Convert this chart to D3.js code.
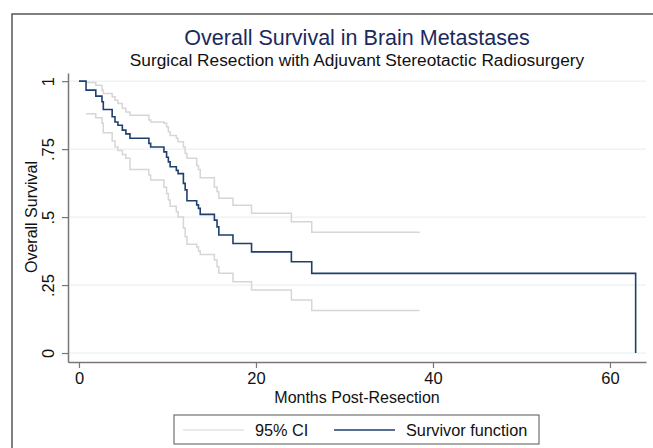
<!DOCTYPE html>
<html>
<head>
<meta charset="utf-8">
<title>Overall Survival</title>
<style>
body {margin: 0; background: #fff;}
text {font-family: "Liberation Sans", Arial, sans-serif;}
</style>
</head>
<body>
<div id="chart"></div>
<script src="https://cdn.jsdelivr.net/npm/d3@7/dist/d3.min.js"></script>
<script>
// Kaplan-Meier estimate (months, survival)
var survTime = [0, 0.8, 1.9, 2.6, 2.75, 3.75, 4.07, 4.4, 4.9, 5.3, 5.76, 7.9, 8.1, 9.6, 9.9, 10.1, 10.3, 11.0, 11.2, 11.8, 12.0, 12.2, 13.3, 13.5, 13.7, 15.3, 15.6, 15.8, 17.4, 19.5, 24.0, 26.3, 62.9];
var survProb = [1, 0.967, 0.945, 0.924, 0.896, 0.869, 0.85, 0.838, 0.82, 0.806, 0.79, 0.771, 0.758, 0.74, 0.72, 0.703, 0.685, 0.672, 0.66, 0.624, 0.6, 0.56, 0.545, 0.532, 0.51, 0.489, 0.464, 0.434, 0.403, 0.372, 0.336, 0.293, 0];

var ciTime  = [0.8, 1.9, 2.6, 2.75, 3.75, 4.07, 4.4, 4.9, 5.3, 5.76, 7.9, 8.1, 9.6, 9.9, 10.1, 10.3, 11.0, 11.2, 11.8, 12.0, 12.2, 13.3, 13.5, 13.7, 15.3, 15.6, 15.8, 17.4, 19.5, 24.0, 26.3, 38.5];
var ciUpper = [0.995, 0.985, 0.967, 0.955, 0.943, 0.93, 0.918, 0.9, 0.887, 0.875, 0.857, 0.85, 0.845, 0.832, 0.814, 0.8, 0.79, 0.777, 0.758, 0.734, 0.716, 0.69, 0.675, 0.645, 0.611, 0.593, 0.569, 0.544, 0.514, 0.483, 0.444, 0.444];
var ciLower = [0.88, 0.865, 0.845, 0.81, 0.78, 0.758, 0.745, 0.73, 0.716, 0.675, 0.655, 0.636, 0.61, 0.587, 0.5625, 0.54, 0.52, 0.5, 0.46, 0.428, 0.4, 0.39, 0.375, 0.362, 0.342, 0.317, 0.293, 0.262, 0.232, 0.195, 0.156, 0.156];

var xTicks = [0, 20, 40, 60];
var yTicks = [0, 0.25, 0.5, 0.75, 1];
var yTickLabels = ['0', '.25', '.5', '.75', '1'];

var width = 653, height = 448;
var svg = d3.select('#chart').append('svg')
	.attr('width', width)
	.attr('height', height);

// outer frame (runs off the right and bottom edges)
svg.append('rect')
	.attr('x', 12).attr('y', 14)
	.attr('width', 700).attr('height', 500)
	.attr('fill', '#fff')
	.attr('stroke', '#555')
	.attr('stroke-width', 1.5);

var x = d3.scaleLinear().domain([-1.24, 64.07]).range([68, 646]);
var y = d3.scaleLinear().domain([-0.033, 1.03]).range([362, 73]);

// grid
svg.append('g').selectAll('line')
	.data(yTicks).enter().append('line')
	.attr('x1', 69).attr('x2', 646)
	.attr('y1', function(d) { return y(d); })
	.attr('y2', function(d) { return y(d); })
	.attr('stroke', '#e2eef0')
	.attr('stroke-width', 1);

var line = d3.line()
	.x(function(d) { return x(d[0]); })
	.y(function(d) { return y(d[1]); })
	.curve(d3.curveStepAfter);

function pts(ts, vs) { return ts.map(function(t, i) { return [t, vs[i]]; }); }

svg.append('path').datum(pts(ciTime, ciUpper))
	.attr('d', line).attr('fill', 'none')
	.attr('stroke', '#d6d6d6').attr('stroke-width', 1.5);
svg.append('path').datum(pts(ciTime, ciLower))
	.attr('d', line).attr('fill', 'none')
	.attr('stroke', '#d6d6d6').attr('stroke-width', 1.5);
svg.append('path').datum(pts(survTime, survProb))
	.attr('d', line).attr('fill', 'none')
	.attr('stroke', '#1f3f6e').attr('stroke-width', 1.6);

// axes
var xAxis = svg.append('g')
	.attr('transform', 'translate(0,362)')
	.call(d3.axisBottom(x).tickValues(xTicks).tickSize(6).tickSizeOuter(0).tickFormat(d3.format('d')));
var yAxis = svg.append('g')
	.attr('transform', 'translate(68,0)')
	.call(d3.axisLeft(y).tickValues(yTicks).tickSize(6).tickSizeOuter(0)
		.tickFormat(function(d, i) { return yTickLabels[i]; }));

[xAxis, yAxis].forEach(function(a) {
	a.select('.domain').attr('stroke', '#777').attr('stroke-width', 1.5);
	a.selectAll('.tick line').attr('stroke', '#777').attr('stroke-width', 1.2);
	a.selectAll('.tick text').attr('fill', '#111').style('font-size', '16.5px')
		.style('font-family', '"Liberation Sans", Arial, sans-serif');
});
xAxis.selectAll('.tick text').attr('y', 10);
yAxis.selectAll('.tick text')
	.attr('x', null).attr('dy', null)
	.attr('text-anchor', 'middle')
	.attr('transform', 'translate(-20,0) rotate(-90)')
	.attr('y', 0).attr('dy', '0.35em');

// titles
svg.append('text').attr('x', 357).attr('y', 45)
	.attr('text-anchor', 'middle').attr('fill', '#1b2a5c')
	.style('font-size', '21.5px').text('Overall Survival in Brain Metastases');
svg.append('text').attr('x', 357).attr('y', 66)
	.attr('text-anchor', 'middle').attr('fill', '#111')
	.style('font-size', '17.3px').text('Surgical Resection with Adjuvant Stereotactic Radiosurgery');
svg.append('text').attr('x', 357).attr('y', 403)
	.attr('text-anchor', 'middle').attr('fill', '#111')
	.style('font-size', '16px').text('Months Post-Resection');
svg.append('text')
	.attr('transform', 'translate(37,217) rotate(-90)')
	.attr('text-anchor', 'middle').attr('fill', '#111')
	.style('font-size', '16px').text('Overall Survival');

// legend
var legend = svg.append('g');
legend.append('rect')
	.attr('x', 174).attr('y', 415).attr('width', 365).attr('height', 29)
	.attr('fill', '#fff').attr('stroke', '#555').attr('stroke-width', 1);
var legendItems = [
	{label: '95% CI', color: '#e3e3e3', x0: 183},
	{label: 'Survivor function', color: '#1f3f6e', x0: 334}
];
var li = legend.selectAll('.item').data(legendItems).enter().append('g').attr('class', 'item');
li.append('line')
	.attr('x1', function(d) { return d.x0; })
	.attr('x2', function(d) { return d.x0 + 61; })
	.attr('y1', 430).attr('y2', 430)
	.attr('stroke', function(d) { return d.color; })
	.attr('stroke-width', 1.3);
li.append('text')
	.attr('x', function(d) { return d.x0 + 72; })
	.attr('y', 436).attr('fill', '#111')
	.style('font-size', '16.3px')
	.text(function(d) { return d.label; });
</script>
</body>
</html>
